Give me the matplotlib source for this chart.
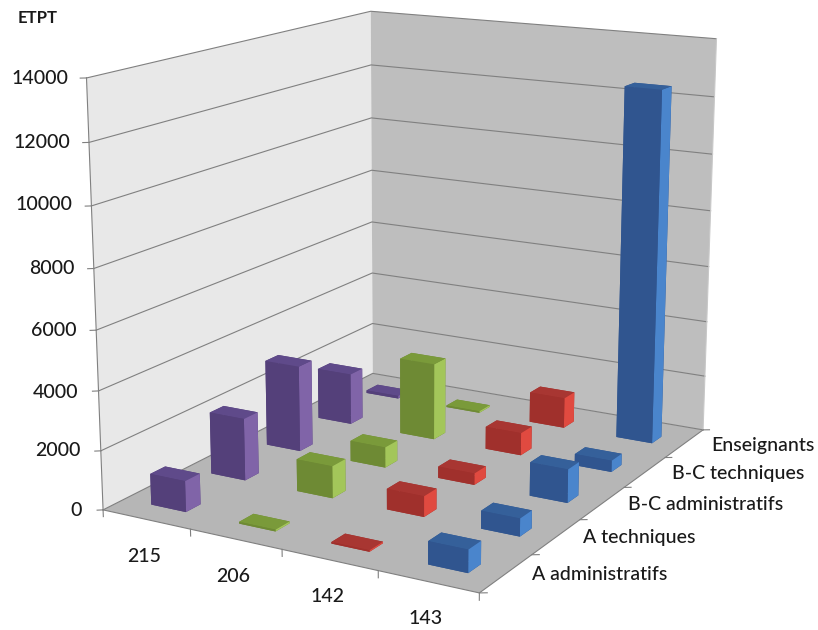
import numpy as np
import matplotlib
matplotlib.use('Agg')
import matplotlib.pyplot as plt
from mpl_toolkits.mplot3d.art3d import Poly3DCollection

categories = ['215', '206', '142', '143']
series = ['A administratifs', 'A techniques', 'B-C administratifs', 'B-C techniques', 'Enseignants']
v215 = [1050, 2150, 3050, 1850, 100]
v206 = [60, 1100, 720, 2750, 60]
v142 = [50, 700, 400, 800, 1100]
v143 = [750, 600, 1150, 400, 12500]
values = [v215, v206, v142, v143]
z_ticks = [0, 2000, 4000, 6000, 8000, 10000, 12000, 14000]

# label placement in reference pixels
z_label_pos = [(82, 511), (80, 450), (78, 392), (76, 330), (74, 268), (72, 205), (70, 143), (68, 79)]
x_label_pos = [(144, 557), (233, 577), (327, 597), (426, 618)]
y_label_pos = [(532, 575), (583, 538), (628, 505), (672, 474), (711, 445)]

FW, FH = 818, 630
plt.rcParams['font.family'] = ['Lato', 'DejaVu Sans']
fig = plt.figure(figsize=(FW/100, FH/100), dpi=100, facecolor='white')
ax = fig.add_axes([0, 0, 1, 1], projection='3d')
ax.set_xlim(0, 4, view_margin=0)
ax.set_ylim(0, 5, view_margin=0)
ax.set_zlim(0, 14000, view_margin=0)
ax.set_autoscale_on(False)

# camera obtained from the wall corners of the reference
ELEV, AZIM, FOCAL, BX, BY = 14.5417, -60.4053, 0.5346, 0.9767, 1.2082
SCALE, TX, TY = 4109.4459, 418.6115, 267.5120
ax.view_init(elev=ELEV, azim=AZIM, roll=0)
ax.set_proj_type('persp', focal_length=FOCAL)
ax.set_box_aspect((BX, BY, 1.0))
vl = ax.viewLim
W = SCALE * vl.width
left = TX + SCALE * vl.x0
top = TY - SCALE * vl.y1
ax.set_position([left/FW, (FH - top - W)/FH, W/FW, W/FH])
ax.set_axis_off()
ax.computed_zorder = False
ax.patch.set_alpha(0)

def wall(verts, col, zo):
    ax.add_collection3d(Poly3DCollection([verts], facecolors=col, edgecolors='none', zorder=zo))

ZM = z_ticks[-1]
wall([(0, 0, 0), (0, 5, 0), (0, 5, ZM), (0, 0, ZM)], '#e8e8e8', -100)
wall([(0, 5, 0), (4, 5, 0), (4, 5, ZM), (0, 5, ZM)], '#bebebe', -100)
wall([(0, 0, 0), (4, 0, 0), (4, 5, 0), (0, 5, 0)], '#b6b6b6', -99)
GRID = '#808080'
for z in z_ticks:
    ax.plot([0, 0, 4], [0, 5, 5], [z, z, z], color=GRID, lw=0.8, zorder=-98)
    ax.plot([-0.044, 0], [-0.034, 0], [z, z], color=GRID, lw=0.8, zorder=-98)
ax.plot([0, 0], [0, 0], [0, ZM], color=GRID, lw=0.8, zorder=-98)
ax.plot([4, 4], [5, 5], [0, ZM], color='#c8c8c8', lw=0.8, zorder=-98)
ax.plot([0, 4, 4], [0, 0, 5], [0, 0, 0], color=GRID, lw=0.8, zorder=-98)
for i in range(len(categories) + 1):
    ax.plot([i, i], [0, 0], [0, -230], color=GRID, lw=0.8, zorder=-98)
for j in range(len(series) + 1):
    ax.plot([4, 4.057], [j, j + 0.036], [0, 0], color=GRID, lw=0.8, zorder=-98)

colors = [('#54407a', '#5f4a8a', '#8064a8'), ('#6e8a34', '#7a9a3a', '#a3c65a'),
          ('#a0302c', '#a83632', '#e04a40'), ('#30558f', '#35609a', '#4a85cc')]
for i, row in enumerate(values):
    for j, h in enumerate(row):
        fc, tc, sc = colors[i]
        ax.bar3d(i + 0.31, j + 0.34, 0, 0.40, 0.24, h,
                 color=[fc, tc, fc, fc, fc, sc], shade=False, zorder=i - j)

TXT = '#1a1a1a'
FS = 14
def px_text(x, y, s, **kw):
    fig.text(x/FW, 1 - y/FH, s, color=TXT, va='center', **kw)

for z, (x, y) in zip(z_ticks, z_label_pos):
    px_text(x, y, str(z), ha='right', fontsize=FS, fontweight='medium')
for s, (x, y) in zip(categories, x_label_pos):
    px_text(x, y, s, ha='center', fontsize=FS, fontweight='medium')
for s, (x, y) in zip(series, y_label_pos):
    px_text(x, y, s, ha='left', fontsize=FS, fontweight='medium')
px_text(18, 18, 'ETPT', ha='left', fontsize=12, fontweight='bold')

fig.savefig('out.png', dpi=100)
